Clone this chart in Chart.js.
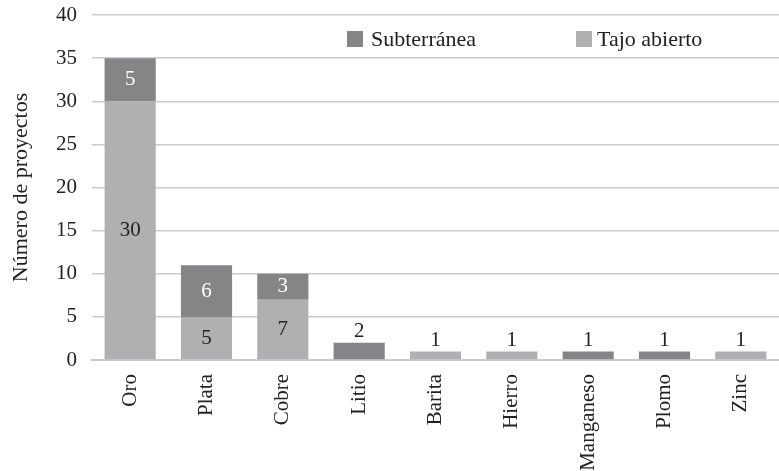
<!DOCTYPE html>
<html>
<head>
<meta charset="utf-8">
<script src="https://cdn.jsdelivr.net/npm/chart.js@4"></script>
<style>
  html, body { margin: 0; padding: 0; background: #fff; }
  #wrap { width: 779px; height: 471px; }
</style>
</head>
<body>
<div id="wrap"><canvas id="chartProyectos" width="779" height="471"></canvas></div>
<script>
// ============= DATA =============
const categories = ['Oro', 'Plata', 'Cobre', 'Litio', 'Barita', 'Hierro', 'Manganeso', 'Plomo', 'Zinc'];
const tajoAbierto = [30, 5, 7, null, 1, 1, null, null, 1];
const subterranea = [5, 6, 3, 2, null, null, 1, 1, null];
const yTicks = [0, 5, 10, 15, 20, 25, 30, 35, 40];

const FONT = "'Liberation Serif', serif";
const COLORS = { sub: '#858588', tajo: '#b0b0b3', text: '#222222', grid: '#cccccc' };

// draws the value of each segment, inside the bar or above it when it is too short
const valueLabels = {
  id: 'valueLabels',
  afterDatasetsDraw(chart) {
    const ctx = chart.ctx;
    ctx.save();
    ctx.font = '21px ' + FONT;
    ctx.textAlign = 'center';
    ctx.textBaseline = 'middle';
    chart.data.datasets.forEach((ds, di) => {
      const meta = chart.getDatasetMeta(di);
      meta.data.forEach((bar, i) => {
        const v = ds.data[i];
        if (v == null) return;
        const h = bar.base - bar.y;
        if (h < 20) {
          ctx.fillStyle = COLORS.text;
          ctx.fillText(v, bar.x, bar.y - 11);
        } else {
          ctx.fillStyle = di === 1 ? '#ffffff' : COLORS.text;
          ctx.fillText(v, bar.x, bar.y + h / 2);
        }
      });
    });
    ctx.restore();
  }
};

// legend inside the plot, Subterránea first
const insideLegend = {
  id: 'insideLegend',
  afterDraw(chart) {
    const ctx = chart.ctx;
    const items = [
      { ds: chart.data.datasets[1], x: 347, gap: 24 },
      { ds: chart.data.datasets[0], x: 576, gap: 21 }
    ];
    ctx.save();
    ctx.font = '22px ' + FONT;
    ctx.textBaseline = 'middle';
    ctx.textAlign = 'left';
    items.forEach(it => {
      ctx.fillStyle = it.ds.backgroundColor;
      ctx.fillRect(it.x, 31, 16, 16);
      ctx.fillStyle = COLORS.text;
      ctx.fillText(it.ds.label, it.x + it.gap, 40);
    });
    ctx.restore();
  }
};

function drawChart() {
  new Chart(document.getElementById('chartProyectos'), {
    type: 'bar',
    data: {
      labels: categories,
      datasets: [
        { label: 'Tajo abierto', data: tajoAbierto, backgroundColor: COLORS.tajo, categoryPercentage: 1, barPercentage: 0.67 },
        { label: 'Subterránea', data: subterranea, backgroundColor: COLORS.sub, categoryPercentage: 1, barPercentage: 0.67 }
      ]
    },
    options: {
      responsive: false,
      animation: false,
      layout: { padding: { top: 15, right: 0, left: 8, bottom: 0 } },
      plugins: {
        legend: { display: false },
        tooltip: { enabled: false }
      },
      scales: {
        x: {
          stacked: true,
          grid: { display: false },
          border: { display: true, color: COLORS.grid, width: 2 },
          ticks: {
            color: COLORS.text,
            font: { family: FONT, size: 21 },
            maxRotation: 90, minRotation: 90,
            padding: 6
          },
          afterFit(scale) { scale.height = 111; }
        },
        y: {
          stacked: true,
          min: 0, max: 40,
          afterBuildTicks(scale) { scale.ticks = yTicks.map(v => ({ value: v })); },
          grid: { color: COLORS.grid, lineWidth: 1.5, drawTicks: false },
          border: { display: false },
          ticks: {
            color: COLORS.text,
            font: { family: FONT, size: 21 },
            padding: 15
          },
          title: {
            display: true,
            text: 'Número de proyectos',
            color: COLORS.text,
            font: { family: FONT, size: 22 },
            padding: 0
          },
          afterFit(scale) {
            scale.width = 84;
            scale.paddingTop = 0;
            scale.paddingBottom = 0;
          }
        }
      }
    },
    plugins: [valueLabels, insideLegend]
  });
}

if (document.fonts && document.fonts.load) {
  document.fonts.load("21px 'Liberation Serif'").then(drawChart, drawChart);
} else {
  drawChart();
}
</script>
</body>
</html>
